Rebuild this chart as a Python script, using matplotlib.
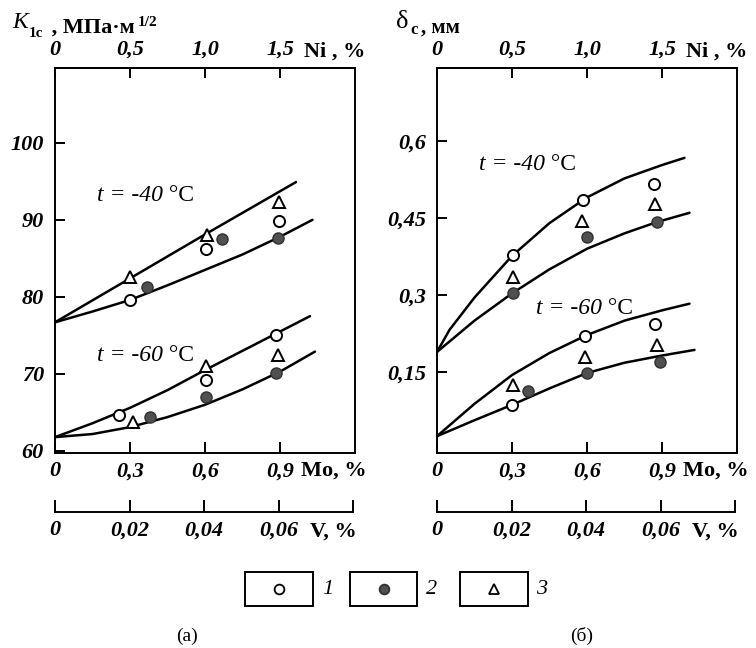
import matplotlib
matplotlib.use('Agg')
import matplotlib.pyplot as plt
from matplotlib.patches import Rectangle

plt.rcParams['font.family'] = ['Liberation Serif', 'DejaVu Serif']

# ---------------- data ----------------
# (a) K1c vs Mo content
a_m40_up_x = [0, 0.3, 0.6, 0.964]
a_m40_up_y = [76.7, 82.4, 88.1, 94.9]
a_m40_lo_x = [0, 0.15, 0.3, 0.45, 0.6, 0.75, 0.9, 1.03]
a_m40_lo_y = [76.7, 78.1, 79.6, 81.5, 83.5, 85.5, 87.8, 90.0]
a_m60_up_x = [0, 0.15, 0.3, 0.45, 0.6, 0.75, 0.9, 1.02]
a_m60_up_y = [61.8, 63.6, 65.6, 67.9, 70.5, 73.0, 75.5, 77.5]
a_m60_lo_x = [0, 0.15, 0.3, 0.45, 0.6, 0.75, 0.9, 1.04]
a_m60_lo_y = [61.8, 62.2, 63.1, 64.4, 66.0, 68.0, 70.3, 72.9]

a_m40_s1_x = [0.3, 0.604, 0.896]; a_m40_s1_y = [79.6, 86.2, 89.9]
a_m40_s2_x = [0.368, 0.668, 0.89]; a_m40_s2_y = [81.3, 87.5, 87.7]
a_m40_s3_x = [0.3, 0.608, 0.896]; a_m40_s3_y = [82.6, 88.0, 92.3]
a_m60_s1_x = [0.254, 0.603, 0.884]; a_m60_s1_y = [64.7, 69.2, 75.0]
a_m60_s2_x = [0.38, 0.603, 0.884]; a_m60_s2_y = [64.4, 67.0, 70.1]
a_m60_s3_x = [0.313, 0.603, 0.89]; a_m60_s3_y = [63.8, 71.0, 72.5]

# (b) delta_c vs Mo content
b_m40_up_x = [0, 0.05, 0.15, 0.3, 0.45, 0.6, 0.75, 0.9, 0.99]
b_m40_up_y = [0.189, 0.232, 0.295, 0.376, 0.44, 0.49, 0.527, 0.553, 0.567]
b_m40_lo_x = [0, 0.15, 0.3, 0.45, 0.6, 0.75, 0.88, 1.01]
b_m40_lo_y = [0.189, 0.25, 0.303, 0.35, 0.39, 0.42, 0.442, 0.46]
b_m60_up_x = [0, 0.15, 0.3, 0.45, 0.6, 0.75, 0.9, 1.01]
b_m60_up_y = [0.025, 0.088, 0.144, 0.187, 0.222, 0.25, 0.27, 0.283]
b_m60_lo_x = [0, 0.15, 0.3, 0.45, 0.6, 0.75, 0.9, 1.03]
b_m60_lo_y = [0.025, 0.056, 0.086, 0.118, 0.148, 0.168, 0.182, 0.193]

b_m40_s1_x = [0.304, 0.584, 0.868]; b_m40_s1_y = [0.378, 0.485, 0.516]
b_m40_s2_x = [0.304, 0.6, 0.88]; b_m40_s2_y = [0.304, 0.413, 0.442]
b_m40_s3_x = [0.304, 0.58, 0.872]; b_m40_s3_y = [0.335, 0.444, 0.477]
b_m60_s1_x = [0.3, 0.59, 0.872]; b_m60_s1_y = [0.086, 0.220, 0.243]
b_m60_s2_x = [0.364, 0.6, 0.892]; b_m60_s2_y = [0.113, 0.148, 0.169]
b_m60_s3_x = [0.304, 0.592, 0.88]; b_m60_s3_y = [0.125, 0.179, 0.203]

mo_ticks = [0, 0.3, 0.6, 0.9]
mo_labels = ['0', '0,3', '0,6', '0,9']
ni_ticks = [0, 0.5, 1.0, 1.5]
ni_labels = ['0', '0,5', '1,0', '1,5']
v_ticks = [0, 0.02, 0.04, 0.06, 0.08]
v_labels = ['0', '0,02', '0,04', '0,06', '']
a_yticks = [60, 70, 80, 90, 100]
a_ylabels = ['60', '70', '80', '90', '100']
b_yticks = [0.15, 0.3, 0.45, 0.6]
b_ylabels = ['0,15', '0,3', '0,45', '0,6']
legend_labels = ['1', '2', '3']

# ---------------- figure ----------------
W, H = 756, 648
fig = plt.figure(figsize=(W / 100, H / 100), dpi=100)

TF = dict(fontsize=16, fontweight='bold', fontstyle='italic')
LW = 1.8
MS = 8


def fx(px):
    return px / W


def fy(py):
    return 1 - py / H


def make_panel(x0, ylim, yticks, ylabels):
    ax = fig.add_axes([fx(x0), fy(453), 300 / W, 385 / H])
    ax.set_xlim(0, 1.2)
    ax.set_ylim(*ylim)
    for s in ax.spines.values():
        s.set_linewidth(1.4)
    ax.set_xticks(mo_ticks)
    ax.set_xticklabels(mo_labels, **TF)
    ax.set_yticks(yticks)
    ax.set_yticklabels(ylabels, **TF)
    ax.tick_params(axis='x', direction='in', length=8, width=1.4, pad=6)
    ax.tick_params(axis='y', direction='in', length=7, width=1.4, pad=8)
    sec = ax.secondary_xaxis('top', functions=(lambda x: x * 5 / 3, lambda x: x * 3 / 5))
    sec.set_xticks(ni_ticks)
    sec.set_xticklabels(ni_labels, **TF)
    sec.tick_params(axis='x', direction='in', length=7, width=1.4, pad=6)
    sec.spines['top'].set_linewidth(1.4)
    fig.text(fx(x0 + 249), fy(57), 'Ni , %', fontsize=16,
             fontweight='bold', ha='left', va='baseline')
    fig.text(fx(x0 + 246), fy(476), 'Mo, %', fontsize=16,
             fontweight='bold', ha='left', va='baseline')
    # V axis
    axv = fig.add_axes([fx(x0), fy(512), 298 / W, 0.001])
    axv.set_xlim(0, 0.08)
    axv.set_ylim(0, 1)
    for k in ['top', 'left', 'right']:
        axv.spines[k].set_visible(False)
    axv.spines['bottom'].set_linewidth(1.4)
    axv.patch.set_visible(False)
    axv.set_yticks([])
    axv.set_xticks(v_ticks)
    axv.set_xticklabels(v_labels, **TF)
    axv.tick_params(axis='x', direction='in', length=9, width=1.4, pad=6)
    fig.text(fx(x0 + 255), fy(537), 'V, %', fontsize=16,
             fontweight='bold', ha='left', va='baseline')
    return ax


def temp_label(ax, x, y, t):
    t1 = ax.text(x, y, 't = ' + t, transform=ax.transAxes, fontsize=17,
                 fontstyle='italic', ha='left', va='baseline')
    ax.annotate(' °C', xy=(1, 0), xycoords=t1, fontsize=17, ha='left', va='bottom')


def draw_points(ax, s1, s2, s3):
    ax.plot(*s1, 'o', ms=MS, mfc='white', mec='black', mew=1.4, zorder=4)
    ax.plot(*s2, 'o', ms=MS, mfc='#505050', mec='#303030', mew=1.0, zorder=4)
    ax.plot(*s3, '^', ms=MS + 1, mfc='white', mec='black', mew=1.4, zorder=4)


# panel (a)
axa = make_panel(55, (59.74, 109.7), a_yticks, a_ylabels)
for xs, ys in [(a_m40_up_x, a_m40_up_y), (a_m40_lo_x, a_m40_lo_y),
               (a_m60_up_x, a_m60_up_y), (a_m60_lo_x, a_m60_lo_y)]:
    axa.plot(xs, ys, color='black', lw=LW, solid_capstyle='round', zorder=3)
draw_points(axa, (a_m40_s1_x, a_m40_s1_y), (a_m40_s2_x, a_m40_s2_y), (a_m40_s3_x, a_m40_s3_y))
draw_points(axa, (a_m60_s1_x, a_m60_s1_y), (a_m60_s2_x, a_m60_s2_y), (a_m60_s3_x, a_m60_s3_y))
temp_label(axa, 0.14, 0.655, '-40')
temp_label(axa, 0.14, 0.24, '-60')

# panel (b)
axb = make_panel(437, (-0.0078, 0.742), b_yticks, b_ylabels)
for xs, ys in [(b_m40_up_x, b_m40_up_y), (b_m40_lo_x, b_m40_lo_y),
               (b_m60_up_x, b_m60_up_y), (b_m60_lo_x, b_m60_lo_y)]:
    axb.plot(xs, ys, color='black', lw=LW, solid_capstyle='round', zorder=3)
draw_points(axb, (b_m40_s1_x, b_m40_s1_y), (b_m40_s2_x, b_m40_s2_y), (b_m40_s3_x, b_m40_s3_y))
draw_points(axb, (b_m60_s1_x, b_m60_s1_y), (b_m60_s2_x, b_m60_s2_y), (b_m60_s3_x, b_m60_s3_y))
temp_label(axb, 0.14, 0.735, '-40')
temp_label(axb, 0.33, 0.36, '-60')

# y-axis titles (chained pieces)
k = fig.text(fx(12), fy(28), 'K', fontsize=17, fontstyle='italic', ha='left', va='baseline')
plt.annotate('1c', xy=(1, 0), xycoords=k, xytext=(1, -3), textcoords='offset points',
             fontsize=11, fontweight='bold', ha='left', va='baseline',
             annotation_clip=False)
k2 = plt.annotate(' , МПа·м', xy=(1, 0), xycoords=k, xytext=(13, 0), textcoords='offset points',
                  fontsize=16, fontweight='bold', ha='left', va='baseline',
                  annotation_clip=False)
plt.annotate('1/2', xy=(1, 1), xycoords=k2, xytext=(2, -6), textcoords='offset points',
             fontsize=11, fontweight='bold', ha='left', va='baseline', annotation_clip=False)

d = fig.text(fx(396), fy(28), 'δ', fontsize=19, ha='left', va='baseline')
plt.annotate('c', xy=(1, 0), xycoords=d, xytext=(1, -1), textcoords='offset points',
             fontsize=12, fontweight='bold', ha='left', va='baseline', annotation_clip=False)
plt.annotate(', мм', xy=(1, 0), xycoords=d, xytext=(9, 0), textcoords='offset points',
             fontsize=15, fontweight='bold', ha='left', va='baseline', annotation_clip=False)

# legend boxes
lax = fig.add_axes([0, 0, 1, 1])
lax.set_xlim(0, W)
lax.set_ylim(H, 0)
lax.axis('off')
boxes = [(245, 313, 328), (350, 417, 432), (460, 528, 542)]
styles = [dict(marker='o', mfc='white', mec='black'),
          dict(marker='o', mfc='#505050', mec='#303030'),
          dict(marker='^', mfc='white', mec='black')]
for (x0, x1, tx), st, lab in zip(boxes, styles, legend_labels):
    lax.add_patch(Rectangle((x0, 572), x1 - x0, 34, fill=False, lw=1.4, ec='black'))
    lax.plot([(x0 + x1) / 2], [589], ls='none', ms=7, mew=1.3, **st)
    lax.text(tx, 589, lab, fontsize=16, fontstyle='italic', ha='center', va='center')

fig.text(fx(187), fy(636), '(a)', fontsize=14, ha='center', va='center')
fig.text(fx(582), fy(636), '(б)', fontsize=14, ha='center', va='center')

fig.savefig('out.png', dpi=100)
